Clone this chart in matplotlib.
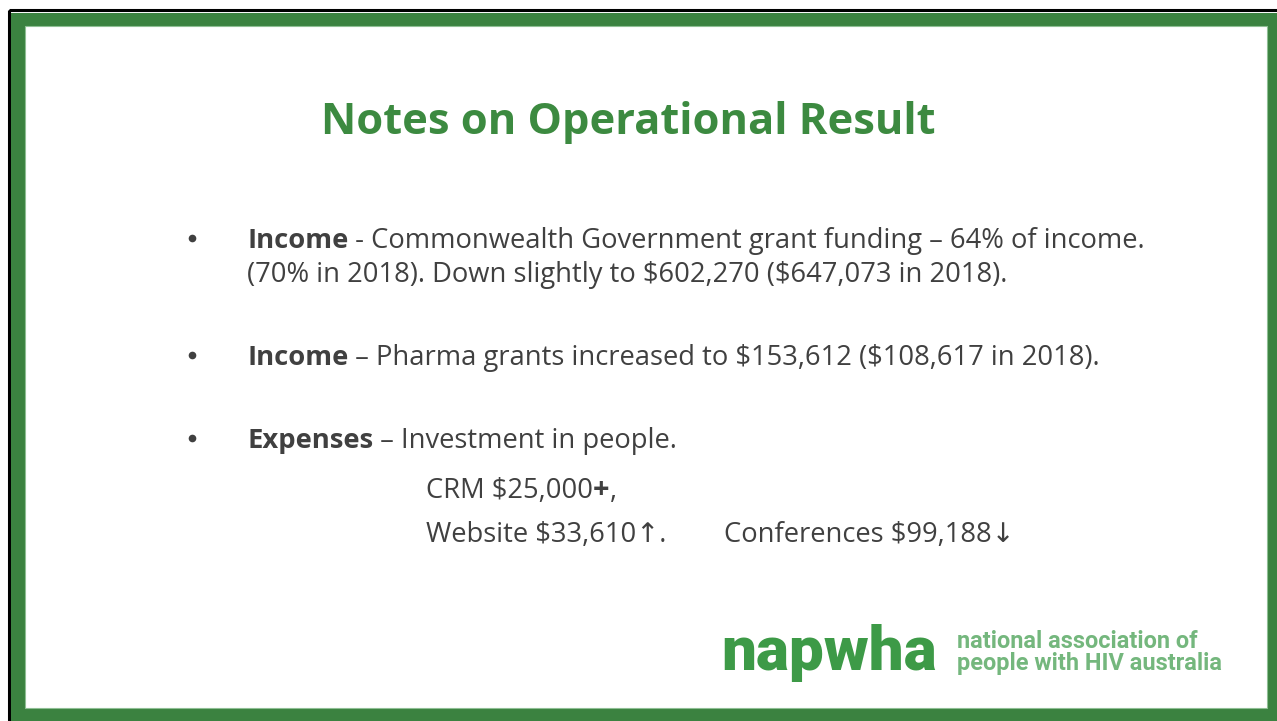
import matplotlib
matplotlib.use("Agg")
import matplotlib.pyplot as plt
from matplotlib.patches import Rectangle

plt.rcParams["text.parse_math"] = False

# ---- content ----
title = "Notes on Operational Result"
bullet_lines = [
    [("Income", True), (" - Commonwealth Government grant funding \u2013 64% of income.", False)],
    [("(70% in 2018). Down slightly to $602,270 ($647,073 in 2018).", False)],
    [("Income", True), (" \u2013 Pharma grants increased to $153,612 ($108,617 in 2018).", False)],
    [("Expenses", True), (" \u2013 Investment in people.", False)],
]
line_baselines = [248, 282, 365, 448]
bullet_rows = [0, 2, 3]
sub_items = ["CRM $25,000", "Website $33,610\u2191.", "Conferences $99,188\u2193"]
logo_main = "napwha"
logo_sub = ["national association of", "people with HIV australia"]

W, H = 1277, 721
DPI = 100
GREEN = "#3b8240"
TITLE_GREEN = "#3c8a40"
TEXT = "#404040"
FAM = ["Open Sans", "DejaVu Sans"]

fig = plt.figure(figsize=(W / DPI, H / DPI), dpi=DPI)
ax = fig.add_axes([0, 0, 1, 1])
ax.set_xlim(0, W)
ax.set_ylim(H, 0)
ax.axis("off")

# frame
ax.add_patch(Rectangle((9, 10), W + 20, H + 20, facecolor="none", edgecolor="black", lw=2.2))
ax.add_patch(Rectangle((11, 13), W, H, facecolor=GREEN, edgecolor="none"))
ax.add_patch(Rectangle((25, 26), 1267 - 25, 708 - 26, facecolor="white", edgecolor="#8fbf94", lw=0.8))

renderer = fig.canvas.get_renderer()

def px_to_pt(px):
    return px * 72.0 / DPI

def width_of(t):
    return t.get_window_extent(renderer).width

# title
ax.text(628, 134, title, fontsize=px_to_pt(43.5), fontweight="bold", color=TITLE_GREEN,
        family=FAM, ha="center", va="baseline")

BODY = px_to_pt(27.4)

def draw_line(segs, x, y, size=BODY):
    for s, bold in segs:
        t = ax.text(x, y, s, fontsize=size, fontweight="bold" if bold else "normal",
                    color=TEXT, family=FAM, ha="left", va="baseline")
        x += width_of(t)
    return x

for i, (segs, yb) in enumerate(zip(bullet_lines, line_baselines)):
    draw_line(segs, 247, yb)
    if i in bullet_rows:
        ax.plot([192], [yb - 10], marker="o", ms=5.5, color=TEXT, mec="none")

# sub items
x_end = draw_line([(sub_items[0], False)], 426, 498)
t_plus = ax.text(x_end, 498, "+", fontsize=px_to_pt(29), fontweight="bold", color=TEXT,
                 family=FAM, ha="left", va="baseline")
ax.text(x_end + width_of(t_plus), 498, ",", fontsize=BODY, color=TEXT, family=FAM,
        ha="left", va="baseline")
draw_line([(sub_items[1], False)], 426, 542)
draw_line([(sub_items[2], False)], 724, 542)

# logo
LOGO_FAM = ["Roboto", "DejaVu Sans"]
ax.text(721, 670, logo_main, fontsize=px_to_pt(62), fontweight="black", color="#3d9a47",
        family=LOGO_FAM, ha="left", va="baseline")
ax.text(957, 648, logo_sub[0], fontsize=px_to_pt(23.5), fontweight="bold", color="#74b77d",
        family=LOGO_FAM, ha="left", va="baseline")
ax.text(957, 670, logo_sub[1], fontsize=px_to_pt(23.5), fontweight="bold", color="#74b77d",
        family=LOGO_FAM, ha="left", va="baseline")

fig.savefig("out.png", dpi=DPI, facecolor="white")
